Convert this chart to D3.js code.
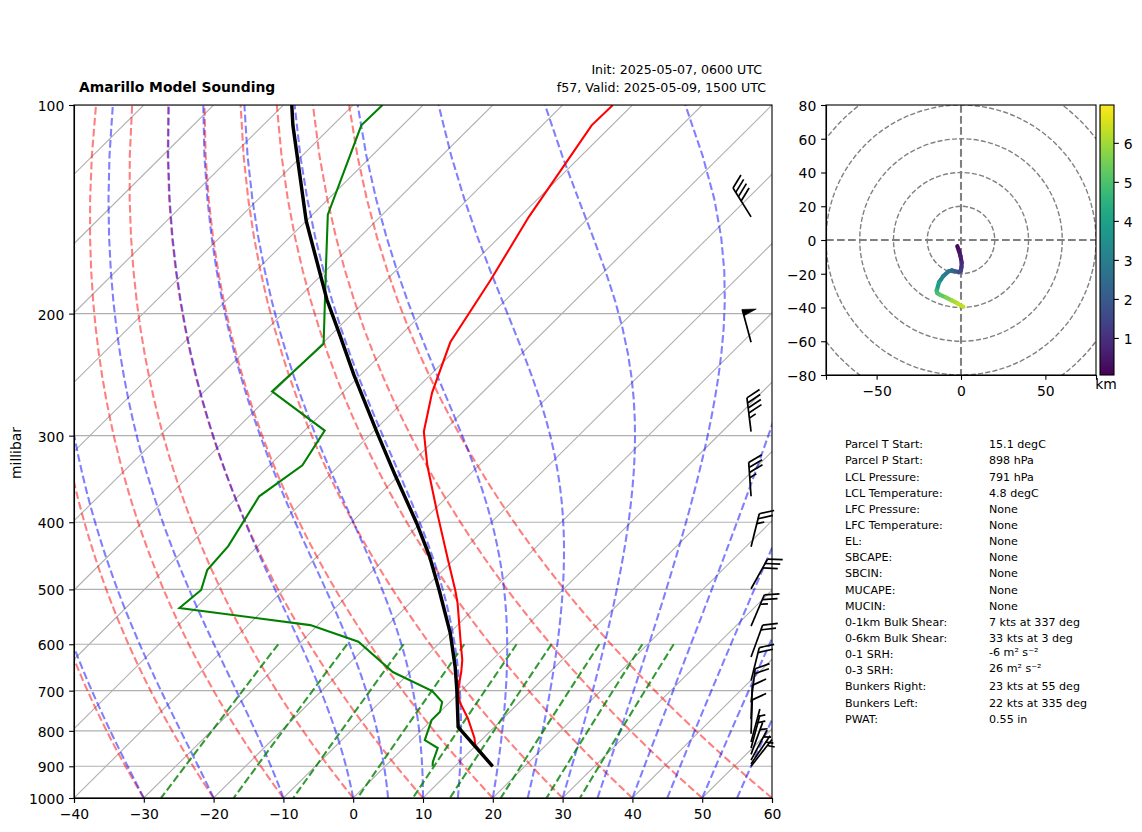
<!DOCTYPE html>
<html>
<head>
<meta charset="utf-8">
<script src="https://cdn.jsdelivr.net/npm/d3@7"></script>
<style>
html,body{margin:0;padding:0;background:#fff;}
svg{display:block;}
text{font-family:"DejaVu Sans",sans-serif;fill:#000;}
.tick text{font-family:"DejaVu Sans",sans-serif;font-size:13.9px;fill:#000;}
.tick line,.domain{stroke:#000;stroke-width:1.1px;}
</style>
</head>
<body>
<svg id="chart" width="1142" height="832" xmlns="http://www.w3.org/2000/svg"></svg>
<script>
// ---------- sounding data ----------
const tempP = [900,838,819,767,729,710,694,658,632,597,523,501,454,390,331,296,260,220,179,145,107,100];
const tempC = [15.4,9.8,8.7,4.9,1.6,0.2,-0.8,-2.7,-4.3,-7.0,-13.2,-15.4,-20.7,-28.8,-37.4,-42.75,-47.2,-51.85,-55.05,-58.7,-62.9,-62.8];
const dewP = [900,887,847,825,772,751,727,701,658,595,563,532,501,469,433,367,331,295,259,221,171,144,107,100];
const dewC = [6.8,6.2,4.9,1.9,0,0,-1.1,-4.1,-12.5,-21.8,-31.1,-52.3,-51.8,-53.8,-54.25,-57,-55.3,-57.1,-70.3,-69.8,-80.6,-87.8,-95.9,-95.8];
const parcelP = [900,790,699,647,578,501,449,401,342,297,245,213,191,183,147,107,100];
const parcelC = [15.4,4.8,-0.7,-4.3,-9.9,-17.7,-23.8,-30.6,-40.6,-49.3,-61,-69.2,-75.66,-78,-90,-105.7,-108.8];

// ---------- wind barbs ----------
const windP = [145,220,296,367,434,499,565,626,677,728,770,808,830,847,865,882,893,900];
const windDir = [328,345,353,356,14,29,23,20,14,7,2,2,15,15,20,28,34,38];
const windSpd = [40,50,45,35,25,30,25,20,20,20,10,10,5,5,5,5,5,5];

// ---------- hodograph ----------
const hodoU = [-2.2,-1.2,-0.3,0.4,0.3,-0.2,-1.5,-3.6,-5.5,-7.5,-10.5,-13,-14.4,-14,-12.4,-9,-5.5,-2,1.4];
const hodoV = [-3.7,-6.5,-9.5,-13.4,-16,-18.5,-19,-18.5,-18,-18.7,-21.4,-25,-30,-31.5,-32.5,-34,-35.8,-37.6,-39.6];
const hodoH = [0.2,0.4,0.6,0.9,1.1,1.4,1.7,2.0,2.4,2.8,3.2,3.9,4.6,4.9,5.2,5.6,6.0,6.3,6.8];
const hodoRings = [20,40,60,80,100];
const hodoXTicks = [-50,0,50];
const hodoYTicks = [80,60,40,20,0,-20,-40,-60,-80];
const hgtDomain = [0.05,6.97];
const hgtTicks = [1,2,3,4,5,6];

// ---------- background thermodynamic diagram ----------
const pressureTicks = [100,200,300,400,500,600,700,800,900,1000];
const tempTicks = [-40,-30,-20,-10,0,10,20,30,40,50,60];
const isotherms = d3.range(-130,70,10);
const dryStarts = [-30,-20,-10,0,10,20,30,40,50,60];
const moistStarts = [-30,-20,-10,0,5,10,15,20,25,30,35,40,45,50,55];
const mixRatios = [0.0004,0.001,0.002,0.004,0.007,0.01,0.016,0.024,0.032];

// ---------- texts ----------
const titleLeft = "Amarillo Model Sounding";
const titleInit = "Init: 2025-05-07, 0600 UTC";
const titleValid = "f57, Valid: 2025-05-09, 1500 UTC";
const tableLabels = ["Parcel T Start:","Parcel P Start:","LCL Pressure:","LCL Temperature:","LFC Pressure:","LFC Temperature:","EL:","SBCAPE:","SBCIN:","MUCAPE:","MUCIN:","0-1km Bulk Shear:","0-6km Bulk Shear:","0-1 SRH:","0-3 SRH:","Bunkers Right:","Bunkers Left:","PWAT:"];
const tableValues = ["15.1 degC","898 hPa","791 hPa","4.8 degC","None","None","None","None","None","None","None","7 kts at 337 deg","33 kts at 3 deg","-6 m\u00b2 s\u207b\u00b2","26 m\u00b2 s\u207b\u00b2","23 kts at 55 deg","22 kts at 335 deg","0.55 in"];

// ---------- layout ----------
const L=74,R=772,T=105,B=798;
const HL=826,HR=1096,HT=105,HB=375;
const CL=1100,CR=1114;
const svg=d3.select("#chart");
const defs=svg.append("defs");
defs.append("clipPath").attr("id","clipSkew").append("rect").attr("x",L).attr("y",T).attr("width",R-L).attr("height",B-T);
defs.append("clipPath").attr("id","clipHodo").append("rect").attr("x",HL).attr("y",HT).attr("width",HR-HL).attr("height",HB-HT);

const xT=d3.scaleLinear().domain([-40,60]).range([L,R]);
const yP=d3.scaleLog().domain([100,1000]).range([T,B]);
const skew=(R-L)/(B-T);
const sx=(t,p)=>xT(t)+(B-yP(p))*skew;
const skewLine=d3.line().x(d=>sx(d[0],d[1])).y(d=>yP(d[1]));

const gSkew=svg.append("g").attr("clip-path","url(#clipSkew)");

// horizontal and skewed grid
gSkew.selectAll("line.hgrid").data(pressureTicks).enter().append("line").attr("class","hgrid")
  .attr("x1",L).attr("x2",R).attr("y1",d=>yP(d)).attr("y2",d=>yP(d))
  .attr("stroke","#b0b0b0").attr("stroke-width",1.1);
gSkew.selectAll("line.iso").data(isotherms).enter().append("line").attr("class","iso")
  .attr("x1",d=>sx(d,1000)).attr("y1",yP(1000)).attr("x2",d=>sx(d,100)).attr("y2",yP(100))
  .attr("stroke","#b0b0b0").attr("stroke-width",1.1);

// thermodynamics for reference curves
const pLevels=d3.range(0,50).map(i=>1000-i*900/49);
const K=273.15;
function dryCurve(t0){return pLevels.map(p=>[(t0+K)*Math.pow(p/1000,0.2857)-K,p]);}
function es(tk){return 6.112*Math.exp(17.67*(tk-K)/(tk-29.65));}
function dTdp(p,tk){
  const Rd=287.05,Cp=1005,Lv=2.5e6,eps=0.622;
  const e=es(tk);const rs=eps*e/Math.max(p-e,1e-3);
  return (1/p)*(Rd*tk+Lv*rs)/(Cp+Lv*Lv*rs*eps/(Rd*tk*tk));
}
function moistCurve(t0){
  const out=[];let tk=t0+K;let p=1000;
  pLevels.forEach((pt,i)=>{
    if(i>0){
      const n=8;const h=(pt-p)/n;
      for(let j=0;j<n;j++){
        const k1=dTdp(p,tk),k2=dTdp(p+h/2,tk+h*k1/2),k3=dTdp(p+h/2,tk+h*k2/2),k4=dTdp(p+h,tk+h*k3);
        tk+=h*(k1+2*k2+2*k3+k4)/6;p+=h;
      }
    }
    out.push([tk-K,pt]);
  });
  return out;
}
function mixCurve(w){
  return d3.range(0,12).map(i=>{
    const p=600+i*400/11;
    const e=w*p/(0.622+w);
    const l=Math.log(e/6.112);
    return [243.5*l/(17.67-l),p];
  });
}
const dash="7.7 3.3";
gSkew.selectAll("path.dry").data(dryStarts).enter().append("path").attr("class","dry")
  .attr("d",d=>skewLine(dryCurve(d))).attr("fill","none").attr("stroke","#ff0000")
  .attr("stroke-opacity",0.5).attr("stroke-width",2.08).attr("stroke-dasharray",dash);
gSkew.selectAll("path.moist").data(moistStarts).enter().append("path").attr("class","moist")
  .attr("d",d=>skewLine(moistCurve(d))).attr("fill","none").attr("stroke","#0000ff")
  .attr("stroke-opacity",0.5).attr("stroke-width",2.08).attr("stroke-dasharray",dash);
gSkew.selectAll("path.mix").data(mixRatios).enter().append("path").attr("class","mix")
  .attr("d",d=>skewLine(mixCurve(d))).attr("fill","none").attr("stroke","#008000")
  .attr("stroke-opacity",0.8).attr("stroke-width",2.08).attr("stroke-dasharray",dash);

// sounding lines
const zipPT=(ps,ts)=>ps.map((p,i)=>[ts[i],p]);
gSkew.append("path").attr("d",skewLine(zipPT(tempP,tempC))).attr("fill","none").attr("stroke","#ff0000").attr("stroke-width",2.08);
gSkew.append("path").attr("d",skewLine(zipPT(dewP,dewC))).attr("fill","none").attr("stroke","#008000").attr("stroke-width",2.08);
gSkew.append("path").attr("d",skewLine(zipPT(parcelP,parcelC))).attr("fill","none").attr("stroke","#000").attr("stroke-width",3.47);

// axes
svg.append("g").attr("transform",`translate(0,${B})`).call(d3.axisBottom(xT).tickValues(tempTicks).tickSize(4.86).tickPadding(5.9));
svg.append("g").attr("transform",`translate(${L},0)`).call(d3.axisLeft(yP).tickValues(pressureTicks).tickFormat(d3.format("d")).tickSize(4.86).tickPadding(4.9))
  .selectAll("text").attr("dy","0.39em");
svg.append("rect").attr("x",L).attr("y",T).attr("width",R-L).attr("height",B-T).attr("fill","none").attr("stroke","#000").attr("stroke-width",1.1);
svg.append("text").attr("transform",`translate(21,453) rotate(-90)`).attr("text-anchor","middle").style("font-size","13.9px").text("millibar");

// titles
svg.append("text").attr("x",79).attr("y",92).style("font-size","13.9px").style("font-weight","bold").text(titleLeft);
svg.append("text").attr("x",762).attr("y",74).attr("text-anchor","end").style("font-size","12.6px").text(titleInit);
svg.append("text").attr("x",766).attr("y",92).attr("text-anchor","end").style("font-size","12.6px").text(titleValid);

// wind barbs (matplotlib-style geometry, tip pivot)
const barbX=xT(-40)+0.97*(R-L);
const barbLen=34,barbH=0.4*barbLen,barbS=0.15*barbLen,barbW=6.5;
const gBarb=svg.append("g");
windP.forEach((p,i)=>{
  const g=gBarb.append("g").attr("transform",`translate(${barbX},${yP(p)}) rotate(${windDir[i]})`);
  let spd=Math.round(windSpd[i]/5)*5;
  const nFlag=Math.floor(spd/50);spd-=nFlag*50;
  const nFull=Math.floor(spd/10);spd-=nFull*10;
  const nHalf=spd>=5?1:0;
  g.append("line").attr("x1",0).attr("y1",0).attr("x2",0).attr("y2",-barbLen).attr("stroke","#000").attr("stroke-width",1.7);
  let off=0;
  for(let f=0;f<nFlag;f++){
    const y0=-barbLen+off;
    g.append("path").attr("d",`M0,${y0}L${barbH},${y0+barbW/2}L0,${y0+barbW}Z`).attr("fill","#000").attr("stroke","#000").attr("stroke-width",0.6);
    off+=barbW+barbS*0.5;
  }
  for(let f=0;f<nFull;f++){
    const y0=-barbLen+off;
    g.append("line").attr("x1",0).attr("y1",y0).attr("x2",barbH).attr("y2",y0-barbH/2).attr("stroke","#000").attr("stroke-width",1.7);
    off+=barbS;
  }
  if(nHalf){
    if(nFlag===0&&nFull===0) off+=1.5*barbS;
    const y0=-barbLen+off;
    g.append("line").attr("x1",0).attr("y1",y0).attr("x2",barbH/2).attr("y2",y0-barbH/4).attr("stroke","#000").attr("stroke-width",1.7);
  }
});

// hodograph
const hx=d3.scaleLinear().domain([-80,80]).range([HL,HR]);
const hy=d3.scaleLinear().domain([-80,80]).range([HB,HT]);
const gHodo=svg.append("g").attr("clip-path","url(#clipHodo)");
gHodo.selectAll("circle").data(hodoRings).enter().append("circle")
  .attr("cx",hx(0)).attr("cy",hy(0)).attr("r",d=>hx(d)-hx(0))
  .attr("fill","none").attr("stroke","#808080").attr("stroke-width",1.39).attr("stroke-dasharray","5.1 2.2");
gHodo.append("line").attr("x1",HL).attr("x2",HR).attr("y1",hy(0)).attr("y2",hy(0)).attr("stroke","#808080").attr("stroke-width",2.08).attr("stroke-dasharray","7.7 3.3");
gHodo.append("line").attr("x1",hx(0)).attr("x2",hx(0)).attr("y1",HT).attr("y2",HB).attr("stroke","#808080").attr("stroke-width",2.08).attr("stroke-dasharray","7.7 3.3");
const hgtColor=d3.scaleSequential(d3.interpolateViridis).domain(hgtDomain);
gHodo.selectAll("line.seg").data(hodoU.slice(1)).enter().append("line").attr("class","seg")
  .attr("x1",(d,i)=>hx(hodoU[i])).attr("y1",(d,i)=>hy(hodoV[i]))
  .attr("x2",(d,i)=>hx(hodoU[i+1])).attr("y2",(d,i)=>hy(hodoV[i+1]))
  .attr("stroke",(d,i)=>hgtColor(hodoH[i])).attr("stroke-width",4.2).attr("stroke-linecap","round");
svg.append("g").attr("transform",`translate(0,${HB})`).call(d3.axisBottom(hx).tickValues(hodoXTicks).tickSize(4.86).tickPadding(5.9));
svg.append("g").attr("transform",`translate(${HL},0)`).call(d3.axisLeft(hy).tickValues(hodoYTicks).tickSize(4.86).tickPadding(4.9))
  .selectAll("text").attr("dy","0.39em");
svg.append("rect").attr("x",HL).attr("y",HT).attr("width",HR-HL).attr("height",HB-HT).attr("fill","none").attr("stroke","#000").attr("stroke-width",1.1);

// colour bar
const grad=defs.append("linearGradient").attr("id","viridisBar").attr("x1",0).attr("x2",0).attr("y1",1).attr("y2",0);
d3.range(0,21).forEach(i=>grad.append("stop").attr("offset",i/20).attr("stop-color",d3.interpolateViridis(i/20)));
svg.append("rect").attr("x",CL).attr("y",HT).attr("width",CR-CL).attr("height",HB-HT).attr("fill","url(#viridisBar)");
const cb=d3.scaleLinear().domain(hgtDomain).range([HB,HT]);
const cbAxis=svg.append("g").attr("transform",`translate(${CR},0)`).call(d3.axisRight(cb).tickValues(hgtTicks).tickFormat(d3.format("d")).tickSize(4.86).tickPadding(4.9));
cbAxis.select(".domain").remove();
cbAxis.selectAll("text").attr("dy","0.39em");
svg.append("rect").attr("x",CL).attr("y",HT).attr("width",CR-CL).attr("height",HB-HT).attr("fill","none").attr("stroke","#000").attr("stroke-width",1.1);
svg.append("text").attr("x",1106).attr("y",389).attr("text-anchor","middle").style("font-size","13.9px").text("km");

// parameter table
const rowY=d3.scaleLinear().domain([0,17]).range([448.3,722.7]);
const gTab=svg.append("g").style("font-size","11.1px");
tableLabels.forEach((t,i)=>{
  gTab.append("text").attr("x",845).attr("y",rowY(i)).text(t);
  gTab.append("text").attr("x",989).attr("y",rowY(i)-(tableValues[i].includes("\u207b")?2:0)).text(tableValues[i]);
});
</script>
</body>
</html>
